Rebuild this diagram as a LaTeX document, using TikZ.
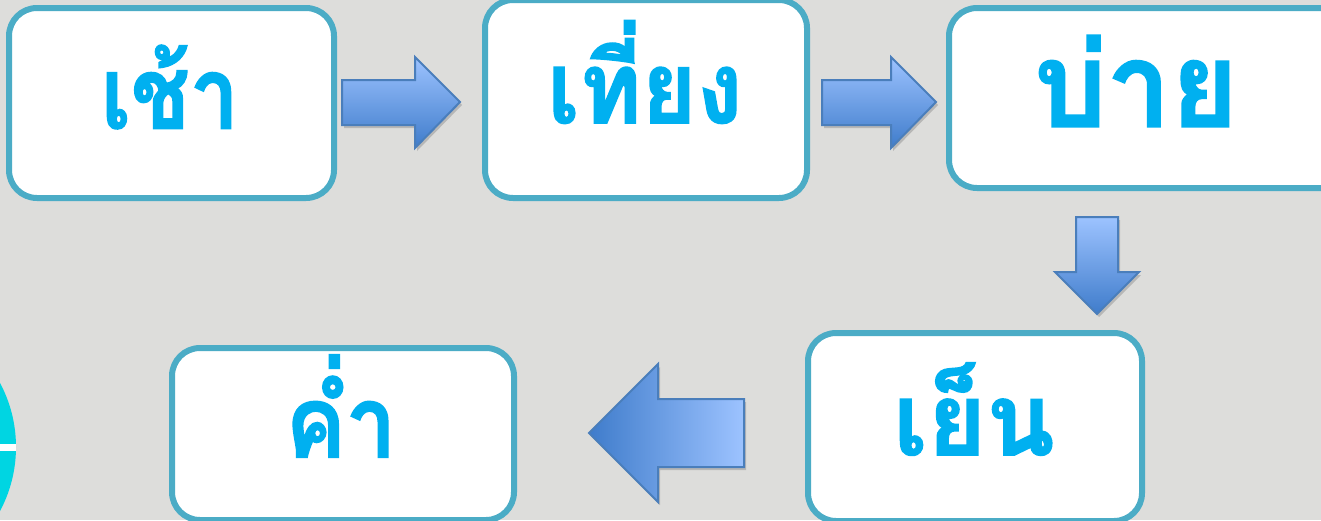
\documentclass[tikz,border=0pt]{standalone}
\usepackage{fontspec}
\newfontfamily\thaifont[Script=Thai,FakeBold=1.5]{Loma}
\usetikzlibrary{shadows}
\definecolor{bg}{HTML}{DDDDDB}
\definecolor{boxline}{HTML}{4BACC6}
\definecolor{txt}{HTML}{00B0F0}
\definecolor{arrl}{HTML}{9DC3FF}
\definecolor{arrd}{HTML}{3F7CCB}
\definecolor{arrline}{HTML}{4A7EBB}
\definecolor{disc}{HTML}{00D5E2}
\tikzset{x=1pt,y=-1pt,
 stage/.style={draw=boxline,line width=6pt,fill=white,rounded corners=28pt,inner sep=0pt,anchor=north west},
 lbl/.style={text=txt,inner sep=0pt},
 blockarrow/.style={draw=arrline,line width=2pt,line join=miter,drop shadow={shadow xshift=2pt,shadow yshift=-3pt,opacity=.4}}
}
\newcommand{\thaisize}[1]{\thaifont\bfseries\fontsize{#1}{#1}\selectfont}
\begin{document}
\begin{tikzpicture}
\useasboundingbox (0,0) rectangle (1321,520);
\begin{scope}
\clip (0,0) rectangle (1321,520);
\fill[bg] (0,0) rectangle (1321,520);
\fill[disc] (-120,447) circle (136);
\fill[white] (-10,443.5) rectangle (16,450.5);
\node[stage,minimum width=325pt,minimum height=190pt] (a) at (6,5) {};
\node[stage,minimum width=322pt,minimum height=198pt] (b) at (482,-3) {};
\node[stage,minimum width=400pt,minimum height=180pt] (c) at (946,5) {};
\node[stage,minimum width=334pt,minimum height=188pt] (d) at (805,330) {};
\node[stage,minimum width=342pt,minimum height=172pt] (e) at (169,345) {};
\node[lbl,font=\thaisize{100},xscale=.87] (ta) at (170,87) {เช้า};
\node[lbl,font=\thaisize{100},xscale=.94] (tb) at (645,72) {เที่ยง};
\node[lbl,font=\thaisize{118},xscale=.97] (tc) at (1136,81) {บ่าย};
\node[lbl,font=\thaisize{100},xscale=1.0] (td) at (974,409) {เย็น};
\node[lbl,font=\thaisize{100},xscale=.9] (te) at (341,406) {ค่ำ};
\draw[blockarrow,top color=arrl,bottom color=arrd] (342,80)--(415,80)--(415,57)--(460,102)--(415,148)--(415,125)--(342,125)--cycle;
\draw[blockarrow,top color=arrl,bottom color=arrd] (822,80)--(891,80)--(891,57)--(936,102)--(891,148)--(891,125)--(822,125)--cycle;
\draw[blockarrow,top color=arrl,bottom color=arrd] (1076,217)--(1118,217)--(1118,272)--(1139,272)--(1097,314)--(1055,272)--(1076,272)--cycle;
\draw[blockarrow,left color=arrd,right color=arrl] (744,399)--(658,399)--(658,364)--(589,433)--(658,502)--(658,467)--(744,467)--cycle;
\end{scope}
\end{tikzpicture}
\end{document}
